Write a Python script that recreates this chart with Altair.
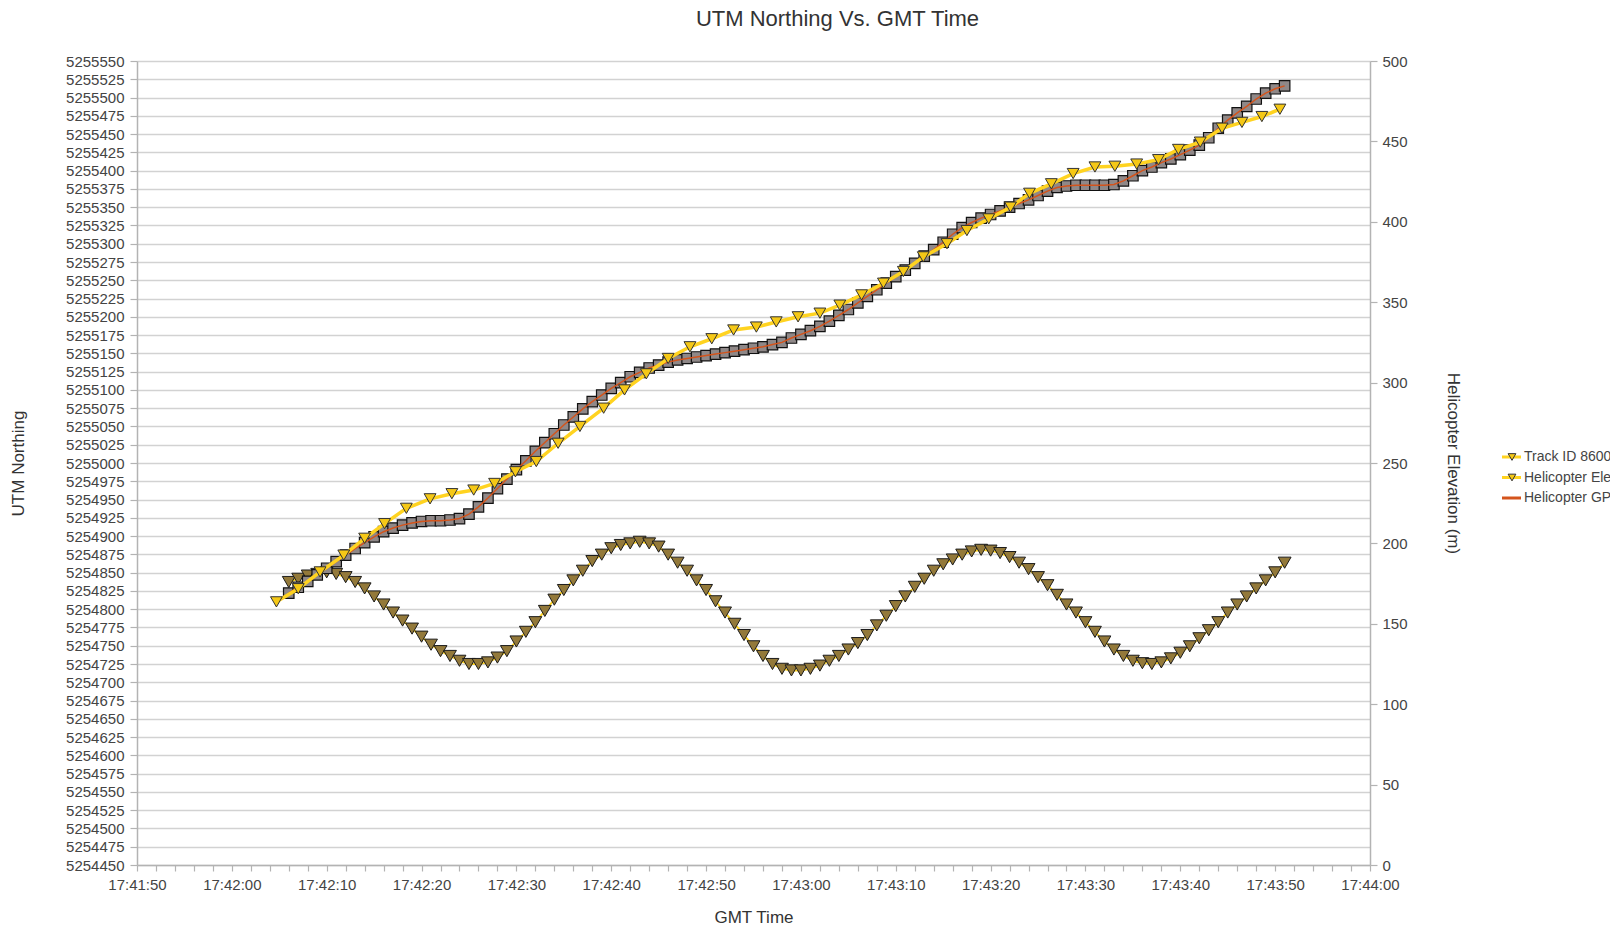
import altair as alt
import pandas as pd

T0 = 17 * 3600 + 42 * 60  # 17:42:00 as seconds of day

# ---- Track ID 860 (sparse radar track), seconds after 17:42:00 and UTM northing
track_sec = [4.7, 7.0, 9.3, 11.8, 14.0, 16.1, 18.4, 20.9, 23.2, 25.5,
             27.7, 29.9, 32.1, 34.4, 36.7, 39.2, 41.4, 43.7, 46.0, 48.3,
             50.6, 52.9, 55.3, 57.4, 59.7, 62.0, 64.1, 66.4, 68.7, 70.8,
             72.9, 75.4, 77.5, 79.8, 82.1, 84.1, 86.4, 88.7, 91.0, 93.1,
             95.4, 97.7, 99.8, 102.1, 104.4, 106.5, 108.6, 110.5]
track_north = [5254810, 5254828, 5254851, 5254874, 5254897, 5254917, 5254938, 5254951, 5254958, 5254963,
               5254972, 5254988, 5255002, 5255027, 5255050, 5255075, 5255100, 5255122, 5255143, 5255159,
               5255170, 5255182, 5255186, 5255193, 5255200, 5255205, 5255216, 5255230, 5255246, 5255262,
               5255282, 5255300, 5255318, 5255334, 5255350, 5255369, 5255382, 5255396, 5255405, 5255406,
               5255409, 5255415, 5255429, 5255439, 5255458, 5255466, 5255474, 5255484]

# ---- Helicopter GPS (dense), seconds after 17:42:00
heli_sec = [6, 7, 8, 9, 10, 11, 12, 13, 14, 15,
            16, 17, 18, 19, 20, 21, 22, 23, 24, 25,
            26, 27, 28, 29, 30, 31, 32, 33, 34, 35,
            36, 37, 38, 39, 40, 41, 42, 43, 44, 45,
            46, 47, 48, 49, 50, 51, 52, 53, 54, 55,
            56, 57, 58, 59, 60, 61, 62, 63, 64, 65,
            66, 67, 68, 69, 70, 71, 72, 73, 74, 75,
            76, 77, 78, 79, 80, 81, 82, 83, 84, 85,
            86, 87, 88, 89, 90, 91, 92, 93, 94, 95,
            96, 97, 98, 99, 100, 101, 102, 103, 104, 105,
            106, 107, 108, 109, 110, 111]
heli_north = [5254822, 5254830, 5254838, 5254847, 5254856, 5254865, 5254874, 5254883, 5254891, 5254899,
              5254906, 5254911, 5254915, 5254918, 5254920, 5254921, 5254921, 5254922, 5254924, 5254930,
              5254940, 5254952, 5254965, 5254978, 5254991, 5255003, 5255016, 5255028, 5255040, 5255052,
              5255063, 5255074, 5255084, 5255093, 5255102, 5255110, 5255118, 5255124, 5255130, 5255134,
              5255138, 5255141, 5255143, 5255145, 5255147, 5255149, 5255151, 5255153, 5255155, 5255157,
              5255159, 5255162, 5255165, 5255171, 5255176, 5255181, 5255187, 5255194, 5255202, 5255210,
              5255219, 5255228, 5255237, 5255246, 5255255, 5255264, 5255273, 5255283, 5255292, 5255302,
              5255313, 5255322, 5255329, 5255335, 5255340, 5255345, 5255350, 5255355, 5255360, 5255366,
              5255372, 5255377, 5255379, 5255380, 5255380, 5255380, 5255380, 5255381, 5255386, 5255393,
              5255400, 5255405, 5255411, 5255416, 5255422, 5255428, 5255435, 5255445, 5255458, 5255469,
              5255479, 5255488, 5255498, 5255506, 5255512, 5255516]
heli_elev = [176, 178, 180, 181, 182, 181, 179, 176, 172, 167,
             162, 157, 152, 147, 142, 137, 133, 130, 127, 125,
             125, 126, 129, 133, 139, 145, 151, 158, 165, 171,
             177, 183, 189, 193, 197, 199, 200, 201, 200, 198,
             193, 188, 183, 177, 171, 164, 157, 150, 143, 136,
             130, 125, 122, 121, 121, 122, 124, 127, 130, 134,
             138, 143, 149, 155, 161, 167, 173, 178, 183, 187,
             190, 193, 195, 196, 195.5, 194, 191.5, 188, 184, 179,
             174, 168, 162, 157, 151, 145, 139, 134, 130, 127,
             125.5, 125, 126, 128.5, 132, 136, 141, 146, 151, 157,
             162, 167, 172, 177, 182, 188]

legend_labels = ["Track ID 8600 UTM Northing", "Helicopter Elevation (m)", "Helicopter GPS Northing"]

track_df = pd.DataFrame({"t": [T0 + s for s in track_sec], "n": track_north})
heli_df = pd.DataFrame({"t": [T0 + s for s in heli_sec], "n": heli_north, "e": heli_elev})

FONT = "Liberation Sans"
XMIN, XMAX = T0 - 10, T0 + 120
x_ticks = list(range(XMIN, XMAX + 1, 2))
x_label_expr = (f"(datum.value - {XMIN}) % 10 == 0 ? "
                "utcFormat(datum.value * 1000, '%H:%M:%S') : ''")

xenc = alt.X("t:Q",
             scale=alt.Scale(domain=[XMIN, XMAX], nice=False, zero=False),
             axis=alt.Axis(values=x_ticks, labelExpr=x_label_expr, title="GMT Time",
                           grid=False, tickSize=6, labelPadding=6, titlePadding=17,
                           labelOverlap=False, labelFlush=False))

left_ticks = list(range(5254450, 5255551, 25))
yL = alt.Y("n:Q",
           scale=alt.Scale(domain=[5254450, 5255550], nice=False, zero=False),
           axis=alt.Axis(orient="left", values=left_ticks, format="d", title="UTM Northing",
                         grid=True, tickSize=7, labelPadding=6, titlePadding=38,
                         labelOverlap=False))
yR = alt.Y("e:Q",
           scale=alt.Scale(domain=[0, 500], nice=False, zero=False),
           axis=alt.Axis(orient="right", values=list(range(0, 501, 50)), format="d",
                         title="Helicopter Elevation (m)", grid=False, tickSize=7,
                         labelPadding=5, titlePadding=36))

YEL = "#ffd320"
ORANGE = "#d4541c"

elev_line = alt.Chart(heli_df).mark_line(color=YEL, strokeWidth=2).encode(x=xenc, y=yR)
elev_pts = alt.Chart(heli_df).mark_point(
    shape="triangle-down", filled=True, size=165, fill="#93793a", stroke="#1b1b1b",
    strokeWidth=1, opacity=1).encode(x=xenc, y=yR)
right = alt.layer(elev_line, elev_pts)

gps_pts = alt.Chart(heli_df).mark_point(
    shape="square", filled=True, size=110, fill="#8f8888", stroke="#111111",
    strokeWidth=1.2, opacity=1).encode(x=xenc, y=yL)
gps_line = alt.Chart(heli_df).mark_line(color=ORANGE, strokeWidth=1.5).encode(x=xenc, y=yL)
track_line = alt.Chart(track_df).mark_line(color=YEL, strokeWidth=3.5).encode(x=xenc, y=yL)
track_pts = alt.Chart(track_df).mark_point(
    shape="triangle-down", filled=True, size=140, fill="#f5c816", stroke="#333333",
    strokeWidth=1, opacity=1).encode(x=xenc, y=yL)
left = alt.layer(gps_pts, gps_line, track_line, track_pts)

# ---- manual legend (clipped at the right edge, as in the reference)
legend_layers = []
rows_y = [396, 416.5, 437]
for i, (lab, yy) in enumerate(zip(legend_labels, rows_y)):
    ldf = pd.DataFrame({"label": [lab]})
    col = ORANGE if i == 2 else YEL
    legend_layers.append(alt.Chart(ldf).mark_rule(color=col, strokeWidth=3).encode(
        x=alt.value(1365), x2=alt.value(1384), y=alt.value(yy)))
    if i < 2:
        legend_layers.append(alt.Chart(ldf).mark_point(
            shape="triangle-down", filled=True, size=60, fill="#f5c816", stroke="#333333",
            strokeWidth=1, opacity=1).encode(x=alt.value(1375), y=alt.value(yy)))
    legend_layers.append(alt.Chart(ldf).mark_text(
        align="left", baseline="middle", fontSize=14, font=FONT, color="#444444").encode(
        x=alt.value(1387), y=alt.value(yy), text="label:N"))

chart = alt.layer(right, left, *legend_layers).resolve_scale(y="independent").properties(
    width=1233, height=804,
    autosize=alt.AutoSizeParams(type="none"),
    padding={"left": 129, "top": 53, "right": 240, "bottom": 62},
    background="white",
    title=alt.TitleParams(text="UTM Northing Vs. GMT Time", fontSize=22, font=FONT,
                          fontWeight="normal", color="#333333", anchor="middle",
                          dx=84, offset=23),
).configure_view(strokeWidth=0).configure_axis(
    labelFont=FONT, titleFont=FONT, labelFontSize=15, titleFontSize=17,
    titleFontWeight="normal", labelColor="#444444", titleColor="#333333",
    domainColor="#b3b3b3", tickColor="#b3b3b3", domainWidth=1.5, tickWidth=1.2,
    gridColor="#d2d2d2", gridWidth=1.5)

chart.save("out.html", embed_options={"renderer": "svg", "actions": False})
